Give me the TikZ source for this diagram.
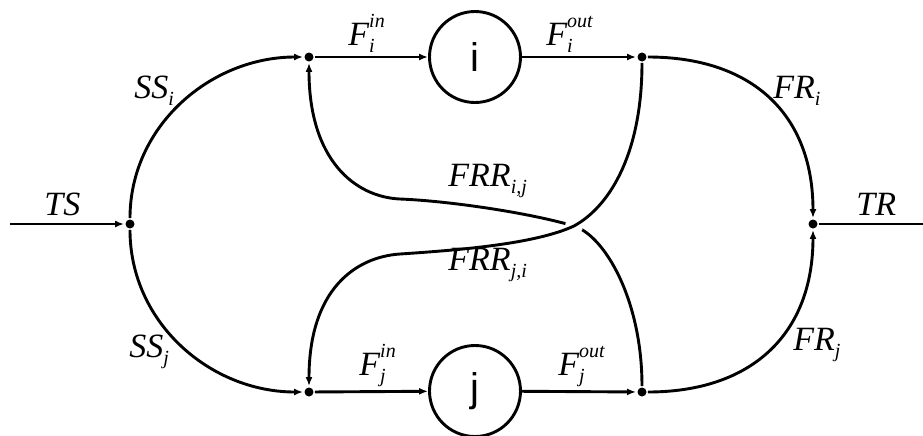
\documentclass[tikz,border=0pt]{standalone}
\usepackage{fontspec}
\setmainfont{Liberation Serif}
\newfontfamily\unitfont{Liberation Sans}
\usetikzlibrary{arrows.meta,positioning}

\newcommand{\fidx}[1]{\raisebox{-3.5pt}{\fontsize{10}{10}\selectfont #1}}
\newcommand{\fsub}[2]{#1\fidx{#2}}
\newcommand{\flab}[3]{#1\rlap{\fidx{#2}}\raisebox{9pt}{\fontsize{10}{10}\selectfont #3}}

\begin{document}
\begin{tikzpicture}[
  x=0.5pt, y=-0.5pt,
  line width=1.45pt,
  lab/.style={font=\fontsize{17}{20}\selectfont\itshape, anchor=base west, inner sep=0pt},
  pt/.style={circle, fill, inner sep=0pt, minimum size=4.5pt},
  unit/.style={draw, circle, minimum size=45.5pt, inner sep=0pt,
    font=\unitfont\fontsize{20}{20}\selectfont},
  d/.style={-{Latex[length=4.5pt,width=3.5pt]}}
]
\useasboundingbox (0,0) rectangle (923,435);
% junctions
\node[pt] (src) at (130,224) {};
\node[pt] (snk) at (813,224) {};
\node[pt] (ini) at (309,57) {};
\node[pt] (outi) at (642,57) {};
\node[pt] (inj) at (309,392) {};
\node[pt] (outj) at (642,392) {};
\node[unit] (ui) at (475,57) {i};
\node[unit] (uj) at (475,391) {j};
\coordinate (ts) at (10,224);
\coordinate (tr) at (923,224);
\coordinate (xing) at (574,226);

\draw[d] (ts) -- (src);
\draw (snk) -- (tr);
\draw[d] (src) to[out=90,in=180] (ini);
\draw[d] (src) to[out=-90,in=180] (inj);
\draw[d] (ini) -- (ui);
\draw[d] (inj) -- (uj);
\draw[d] (ui) -- (outi);
\draw[d] (uj) -- (outj);
\draw[d] (outi) to[out=0,in=90,looseness=1.15] (snk);
\draw[d] (outj) to[out=0,in=-90,looseness=1.15] (snk);
% recycle flows, j->i goes under
\draw[d] (outj) .. controls (642,300) and (605,236) .. (xing)
  .. controls (530,213) and (450,201) .. (400,199)
  .. controls (355,197) and (309,160) .. (ini);
\fill[white] (xing) circle[radius=4.5pt];
\draw[d] (outi) .. controls (642,150) and (612,205) .. (xing)
  .. controls (535,244) and (460,250) .. (400,254)
  .. controls (355,257) and (309,290) .. (inj);

% labels
\node[lab] (lts) at (43,215) {TS};
\node[lab] (ltr) at (855,215) {TR};
\node[lab] (lssi) at (133,98) {\fsub{SS}{i}};
\node[lab] (lssj) at (128,357) {\fsub{SS}{j}};
\node[lab] (lfii) at (347,45) {\flab{F}{i}{in}};
\node[lab] (lfoi) at (545,45) {\flab{F}{i}{out}};
\node[lab] (lfij) at (358,375) {\flab{F}{j}{in}};
\node[lab] (lfoj) at (557,375) {\flab{F}{j}{out}};
\node[lab] (lfri) at (772,98) {\fsub{FR}{i}};
\node[lab] (lfrj) at (792,350) {\fsub{FR}{j}};
\node[lab] (lrij) at (447,186) {\fsub{FRR}{i,j}};
\node[lab] (lrji) at (447,270) {\fsub{FRR}{j,i}};
\end{tikzpicture}
\end{document}
